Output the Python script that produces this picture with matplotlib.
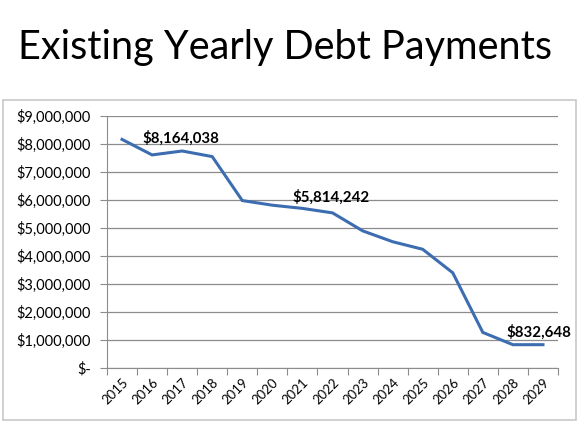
import matplotlib
matplotlib.use("Agg")
import matplotlib.pyplot as plt
from matplotlib.patches import Rectangle
from matplotlib.ticker import FuncFormatter, MultipleLocator

plt.rcParams['font.family'] = ['Lato', 'DejaVu Sans']

years = [str(y) for y in range(2015, 2030)]
payments = [8164038, 7610000, 7750000, 7550000, 5980000, 5814242, 5700000,
            5540000, 4900000, 4510000, 4240000, 3400000, 1270000, 832648, 832648]
labeled = {0: "$8,164,038", 5: "$5,814,242", 14: "$832,648"}
title = "Existing Yearly Debt Payments"

fig = plt.figure(figsize=(5.8, 4.33), dpi=100)
W, H = 580, 433
fig.text(0.5 - 5 / W, 1 - 48 / H, title, ha='center', va='center', fontsize=28.5, color='black')

# chart border
fig.patches.append(Rectangle((3 / W, 1 - 420 / H), 573 / W, 320 / H, transform=fig.transFigure,
                             fill=False, edgecolor='#c8c8c8', lw=1.2))

ax = fig.add_axes([107 / W, 1 - 368 / H, (558 - 107) / W, (368 - 116) / H])
x = list(range(len(years)))
ax.plot(x, payments, color='#3D6DB1', lw=2.2, solid_joinstyle='miter')
ax.set_xlim(-0.5, len(years) - 0.5)
ax.set_ylim(0, 9000000)
ax.yaxis.set_major_locator(MultipleLocator(1000000))
ax.yaxis.set_major_formatter(FuncFormatter(lambda v, p: "$-" if v == 0 else "${:,.0f}".format(v)))
ax.grid(axis='y', color='#8c8c8c', lw=0.9)
ax.set_axisbelow(True)
for s in ['top', 'right']:
    ax.spines[s].set_visible(False)
for s in ['left', 'bottom']:
    ax.spines[s].set_color('#8c8c8c')
ax.set_xticks([i - 0.5 for i in range(len(years) + 1)], minor=False)
ax.set_xticklabels([''] * (len(years) + 1))
ax.set_xticks(x, minor=True)
ax.set_xticklabels(years, minor=True, rotation=45, ha='right', rotation_mode='anchor', fontsize=9.5)
ax.tick_params(axis='x', which='minor', length=0, pad=6)
ax.tick_params(axis='x', which='major', length=5, color='#8c8c8c')
ax.tick_params(axis='y', length=5, color='#8c8c8c', labelsize=10.5, pad=6.5)

# label offsets in pixels (dx, dy up)
offsets = {0: (20, 1), 5: (20, 8), 14: (-37, 12)}
for i, lab in labeled.items():
    dx, dy = offsets[i]
    ax.annotate(lab, (x[i], payments[i]), xytext=(dx * 0.72, dy * 0.72), textcoords='offset points',
                ha='left', va='center', fontsize=10.8, fontweight='bold')

fig.savefig("out.png", dpi=100)
